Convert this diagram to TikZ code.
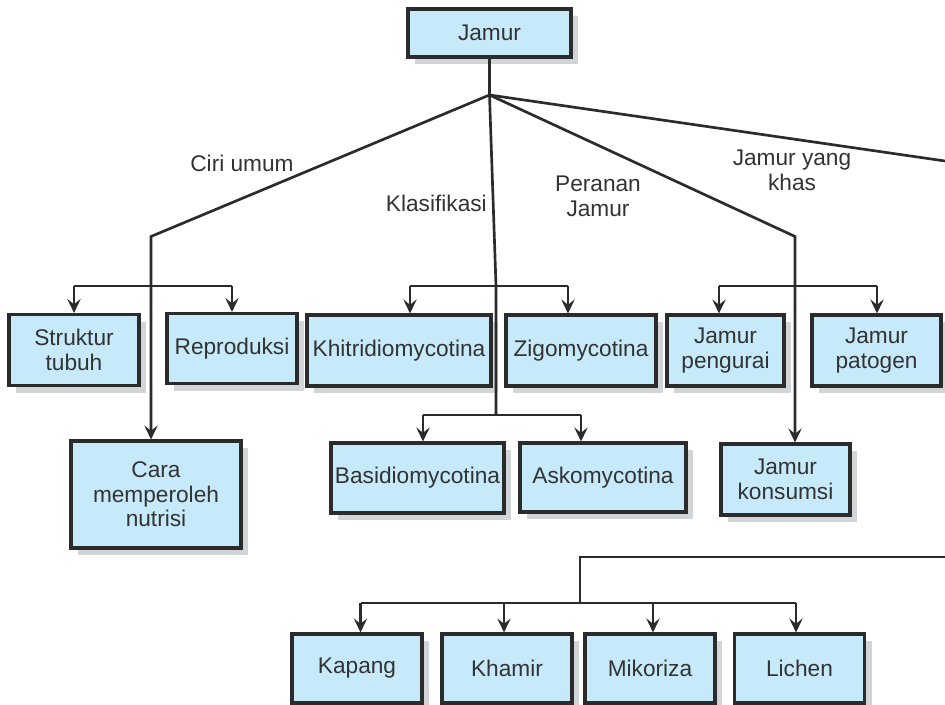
\documentclass[tikz,border=0pt]{standalone}
\usepackage{fontspec}
\setmainfont{Liberation Sans}
\usetikzlibrary{arrows.meta,shadows}

\definecolor{boxfill}{HTML}{C6EAFA}
\definecolor{shadowgray}{HTML}{D2D5D7}
\definecolor{ink}{HTML}{2B2B2B}
\definecolor{txt}{HTML}{333333}

\tikzset{
  px/.style={x=0.75pt, y=-0.75pt},
  sz/.style 2 args={minimum width=#1*0.75pt, minimum height=#2*0.75pt},
  box/.style={draw=ink, line width=2.3pt, fill=boxfill, text=txt, align=center,
    inner sep=0pt, font=\fontsize{17}{18.5}\selectfont,
    general shadow={shadow xshift=5.6pt, shadow yshift=-5.6pt, fill=shadowgray}},
  lbl/.style={text=txt, align=center, inner sep=0pt,
    font=\fontsize{17}{18.8}\selectfont},
  conn/.style={draw=ink, line width=2pt},
  arr/.style={conn, -{Stealth[length=10.5pt, width=10pt, inset=4pt]}}
}

\begin{document}
\begin{tikzpicture}[px]
\useasboundingbox (0,0) rectangle (945,705);

% root
\node[box, sz={163}{48}] (jamur) at (489.5,33) {Jamur};

% ciri umum
\node[box, sz={130}{71}] (struktur) at (74,350) {Struktur\\tubuh};
\node[box, sz={130}{70}] (repro) at (232,348.5) {Reproduksi};
\node[box, sz={170}{107}] (cara) at (156,494.5) {Cara\\memperoleh\\nutrisi};

% klasifikasi
\node[box, sz={184}{71}] (khitri) at (399,350.5) {Khitridiomycotina};
\node[box, sz={150}{71}] (zigo) at (581,350.5) {Zigomycotina};
\node[box, sz={173}{70}] (basidio) at (417.5,478) {Basidiomycotina};
\node[box, sz={166}{69}] (asko) at (603,477.5) {Askomycotina};

% peranan jamur
\node[box, sz={117}{71}] (pengurai) at (725.5,350.5) {Jamur\\pengurai};
\node[box, sz={129}{71}] (patogen) at (876.5,350.5) {Jamur\\patogen};
\node[box, sz={129}{71}] (konsumsi) at (785.5,479.5) {Jamur\\konsumsi};

% jamur yang khas
\node[box, sz={130}{69}] (kapang) at (357,668.5) {Kapang};
\node[box, sz={130}{69}] (khamir) at (507,668.5) {Khamir};
\node[box, sz={130}{69}] (mikoriza) at (650,668.5) {Mikoriza};
\node[box, sz={130}{69}] (lichen) at (799.5,668.5) {Lichen};

% junction points
\coordinate (hub) at (489.5,95);
\coordinate (ciri) at (151,236.5);
\coordinate (klas) at (496,286);
\coordinate (klasLow) at (496,415);
\coordinate (peran) at (795,236.5);
\coordinate (khasEnd) at (945,161);
\coordinate (khasIn) at (945,557);
\coordinate (khasTurn) at (580,557);
\coordinate (khasBar) at (580,603);

\coordinate (sL) at (74,286);   \coordinate (sR) at (232,286);
\coordinate (kL) at (410,286);  \coordinate (kR) at (568,286);
\coordinate (bL) at (423,415);  \coordinate (bR) at (581,415);
\coordinate (pL) at (719,286);  \coordinate (pR) at (877,286);
\coordinate (x1) at (360.5,603); \coordinate (x2) at (504,603);
\coordinate (x3) at (653,603);   \coordinate (x4) at (796,603);

% trunk
\draw[conn] (jamur.south) -- (hub);

% branch: ciri umum
\draw[arr] (hub) -- (ciri) -- (ciri |- cara.north);
\draw[conn] (sL) -- (sR);
\draw[arr] (sL) -- (sL |- struktur.north);
\draw[arr] (sR) -- (sR |- repro.north);

% branch: klasifikasi
\draw[conn] (hub) -- (klas) -- (klasLow);
\draw[conn] (kL) -- (kR);
\draw[arr] (kL) -- (kL |- khitri.north);
\draw[arr] (kR) -- (kR |- zigo.north);
\draw[conn] (bL) -- (bR);
\draw[arr] (bL) -- (bL |- basidio.north);
\draw[arr] (bR) -- (bR |- asko.north);

% branch: peranan jamur
\draw[arr] (hub) -- (peran) -- (peran |- konsumsi.north);
\draw[conn] (pL) -- (pR);
\draw[arr] (pL) -- (pL |- pengurai.north);
\draw[arr] (pR) -- (pR |- patogen.north);

% branch: jamur yang khas
\draw[conn] (hub) -- (khasEnd);
\draw[conn] (khasIn) -- (khasTurn) -- (khasBar);
\draw[conn] (x1) -- (x4);
\draw[arr] (x1) -- (x1 |- kapang.north);
\draw[arr] (x2) -- (x2 |- khamir.north);
\draw[arr] (x3) -- (x3 |- mikoriza.north);
\draw[arr] (x4) -- (x4 |- lichen.north);

% branch labels
\node[lbl] (lciri) at (242,163) {Ciri umum};
\node[lbl, anchor=east] (lklas) at (487,203) {Klasifikasi};
\node[lbl] (lperan) at (598,196) {Peranan\\Jamur};
\node[lbl] (lkhas) at (792,170) {Jamur yang\\khas};
\end{tikzpicture}
\end{document}
